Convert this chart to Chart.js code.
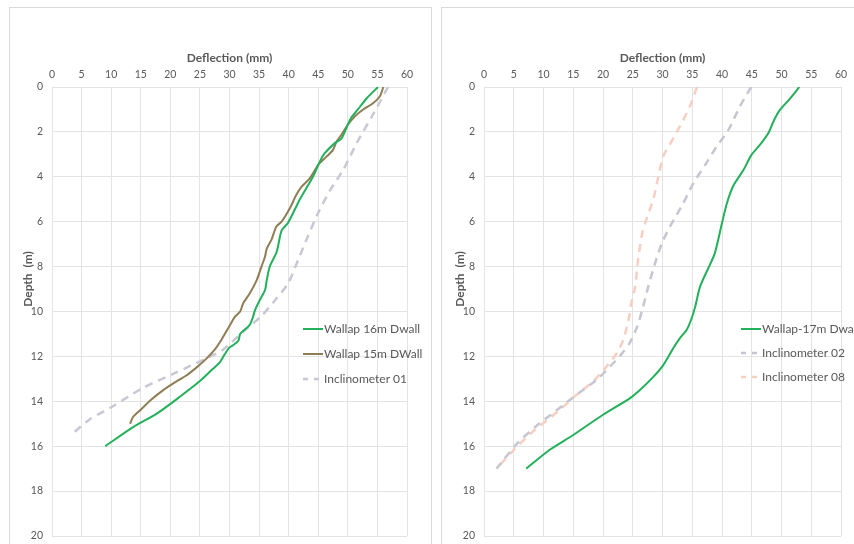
<!DOCTYPE html>
<html>
<head>
<meta charset="utf-8">
<script src="https://cdn.jsdelivr.net/npm/chart.js@4/dist/chart.umd.min.js"></script>
<style>
  body { margin: 0; background: #fff; width: 854px; height: 544px; overflow: hidden; position: relative; }
  .panel { position: absolute; top: 7px; height: 600px; border: 1px solid #d9d9d9; background: #fff; }
  #p1 { left: 9px; width: 421px; }
  #p2 { left: 441px; width: 430px; }
  canvas { position: absolute; left: 0; top: 0; }
</style>
</head>
<body>
<div class="panel" id="p1"><canvas id="left" width="420" height="560"></canvas></div>
<div class="panel" id="p2"><canvas id="right" width="420" height="560"></canvas></div>
<script>
// tick labels
const xTicks = [0, 5, 10, 15, 20, 25, 30, 35, 40, 45, 50, 55, 60];
const yTicks = [0, 2, 4, 6, 8, 10, 12, 14, 16, 18, 20];

// left chart - depth (m) and deflection (mm) per series
const wallap16Depth = [0, 0.5, 1.0, 1.4, 1.8, 2.3, 2.5, 2.95, 3.3, 4.0, 5.0, 6.05, 6.4, 7.1, 7.4, 8.0, 8.6, 9.05, 9.5, 9.95, 10.3, 10.6, 10.8, 11.0, 11.3, 11.5, 11.6, 11.9, 12.25, 12.55, 13.1, 13.8, 14.55, 15.15, 16.0];
const wallap16Defl  = [55.1, 53.2, 51.7, 50.5, 49.8, 48.9, 47.8, 46.1, 45.3, 44.1, 41.9, 39.9, 38.8, 38.2, 37.9, 36.8, 36.3, 36.0, 35.1, 34.3, 33.9, 33.4, 32.6, 31.8, 31.5, 30.6, 30.0, 29.2, 28.4, 27.2, 25.0, 21.6, 17.7, 13.7, 9.0];

const wallap15Depth = [0, 0.42, 0.71, 1.0, 1.3, 1.68, 2.13, 2.43, 2.8, 3.1, 3.47, 4.06, 4.44, 4.8, 5.4, 6.0, 6.22, 6.8, 7.2, 7.56, 8.0, 8.6, 9.2, 9.64, 10.0, 10.24, 10.6, 11.0, 11.36, 11.7, 12.1, 12.5, 12.85, 13.2, 13.5, 13.96, 14.4, 14.7, 15.0];
const wallap15Defl  = [56.0, 55.4, 54.3, 52.6, 51.2, 50.0, 48.9, 48.1, 47.5, 46.4, 45.0, 43.6, 42.2, 41.3, 40.2, 38.8, 37.9, 37.1, 36.3, 36.0, 35.4, 34.6, 33.4, 32.3, 31.8, 30.9, 30.1, 29.2, 28.4, 27.5, 26.1, 24.4, 22.7, 20.5, 18.8, 16.6, 14.9, 13.7, 13.2];

const incl01Depth = [0, 1.2, 2.5, 3.7, 4.6, 5.6, 6.8, 7.7, 8.75, 9.4, 10.2, 10.9, 11.7, 12.1, 12.7, 13.4, 14.3, 14.8, 15.5];
const incl01Defl  = [56.8, 54.3, 51.5, 49.2, 47.0, 45.0, 43.0, 41.6, 39.9, 38.0, 35.4, 32.3, 28.9, 26.0, 21.1, 15.4, 9.8, 6.4, 3.2];

// right chart
const wallap17Depth = [0, 0.5, 1.0, 1.5, 2.05, 2.57, 3.0, 3.7, 4.4, 5.2, 6.06, 7.4, 8.07, 8.9, 9.78, 10.3, 10.8, 11.2, 11.64, 12.4, 12.9, 13.5, 13.87, 14.6, 15.5, 16.17, 17.0];
const wallap17Defl  = [53.0, 51.5, 49.8, 48.7, 47.8, 46.4, 45.0, 43.6, 41.9, 40.8, 40.0, 38.8, 37.7, 36.3, 35.5, 34.9, 34.1, 32.9, 31.8, 30.1, 28.5, 26.2, 24.5, 20.0, 15.0, 11.0, 7.1];

const incl02Depth = [0, 0.87, 1.9, 2.65, 3.46, 4.28, 5.17, 6.2, 6.95, 7.9, 8.9, 9.93, 10.7, 11.4, 11.9, 12.45, 13.05, 13.6, 14.4, 15.1, 15.9, 17.0];
const incl02Defl  = [44.9, 43.0, 41.1, 39.1, 37.2, 35.2, 33.5, 31.3, 29.9, 28.7, 27.6, 26.6, 25.7, 24.5, 23.1, 21.2, 18.9, 16.1, 12.2, 8.8, 5.5, 2.1];

const incl08Depth = [0, 0.87, 1.76, 2.43, 3.1, 4.0, 4.95, 5.9, 6.5, 7.7, 8.9, 9.7, 10.1, 10.7, 11.27, 11.86, 12.45, 13.1, 13.7, 14.5, 15.35, 16.2, 17.0];
const incl08Defl  = [35.8, 34.6, 32.9, 31.5, 30.1, 29.3, 28.5, 27.3, 26.6, 25.9, 25.4, 24.7, 24.5, 24.0, 23.4, 22.3, 20.6, 18.4, 15.6, 12.2, 8.2, 4.9, 2.1];

const txt = '#595959';
const gridCol = '#e3e3e3';
const fontFam = 'Lato, "Open Sans", sans-serif';

function pts(xs, ys) {
    return xs.map((x, i) => ({ x: x, y: ys[i] }));
}

function series(label, depth, defl, color, dash) {
    return {
        label: label,
        data: pts(defl, depth),
        borderColor: color,
        backgroundColor: color,
        borderWidth: dash ? 2.5 : 2,
        borderDash: dash ? [8, 6] : [],
        showLine: true,
        pointRadius: 0,
        tension: 0.25,
        fill: false
    };
}

// legend drawn inside the plot area like the original, plus the depth title
// (Excel puts it a bit above the middle of the axis)
const insideLegend = {
    id: 'insideLegend',
    afterDraw(chart, args, opts) {
        const ctx = chart.ctx;
        const a = chart.chartArea;
        ctx.save();
        ctx.font = '12px ' + fontFam;
        ctx.textBaseline = 'middle';
        chart.data.datasets.forEach((ds, i) => {
            const x = a.left + opts.dx;
            const y = a.top + opts.dy + i * opts.gap;
            ctx.strokeStyle = ds.borderColor;
            ctx.lineWidth = ds.borderWidth;
            ctx.setLineDash(ds.borderDash.length ? [5, 6] : []);
            ctx.beginPath();
            ctx.moveTo(x, y);
            ctx.lineTo(x + 20, y);
            ctx.stroke();
            ctx.setLineDash([]);
            ctx.fillStyle = txt;
            ctx.fillText(ds.label, x + 21, y);
        });

        ctx.translate(18, 271);
        ctx.rotate(-Math.PI / 2);
        ctx.textAlign = 'center';
        ctx.font = 'bold 12px ' + fontFam;
        ctx.fillText('Depth  (m)', 0, 0);
        ctx.restore();
    }
};

function makeChart(id, datasets, legendPos, rightPad) {
    return new Chart(document.getElementById(id), {
        type: 'scatter',
        data: { datasets: datasets },
        options: {
            responsive: false,
            animation: false,
            layout: { padding: { left: 0, right: rightPad, top: 0, bottom: 32 } },
            plugins: {
                legend: { display: false },
                tooltip: { enabled: false },
                insideLegend: legendPos
            },
            scales: {
                x: {
                    type: 'linear',
                    position: 'top',
                    min: 0, max: 60,
                    afterBuildTicks: s => { s.ticks = xTicks.map(v => ({ value: v })); },
                    afterFit: s => { s.height = 79; },
                    grid: { color: gridCol, drawTicks: false },
                    border: { color: gridCol },
                    ticks: { color: txt, font: { family: fontFam, size: 10.5 }, padding: 6 },
                    title: {
                        display: true, text: 'Deflection (mm)', color: txt,
                        font: { family: fontFam, size: 12, weight: 'bold' },
                        padding: { top: 43, bottom: 0 }
                    }
                },
                y: {
                    type: 'linear',
                    reverse: true,
                    min: 0, max: 20,
                    afterBuildTicks: s => { s.ticks = yTicks.map(v => ({ value: v })); },
                    afterFit: s => { s.width = 42; },
                    grid: { color: gridCol, drawTicks: false },
                    border: { color: gridCol },
                    ticks: { color: txt, font: { family: fontFam, size: 10.5 }, padding: 9 },
                    title: { display: false }
                }
            }
        },
        plugins: [insideLegend]
    });
}

makeChart('left', [
    series('Wallap 16m Dwall', wallap16Depth, wallap16Defl, '#22b05a', false),
    series('Wallap 15m DWall', wallap15Depth, wallap15Defl, '#8e7d55', false),
    series('Inclinometer 01', incl01Depth, incl01Defl, '#c8c8d4', true)
], { dx: 251, dy: 242, gap: 25 }, 23);

makeChart('right', [
    series('Wallap-17m Dwall', wallap17Depth, wallap17Defl, '#22b05a', false),
    series('Inclinometer 02', incl02Depth, incl02Defl, '#c6c6d2', true),
    series('Inclinometer 08', incl08Depth, incl08Defl, '#f6cfc2', true)
], { dx: 257, dy: 242, gap: 24 }, 21);
</script>
</body>
</html>
